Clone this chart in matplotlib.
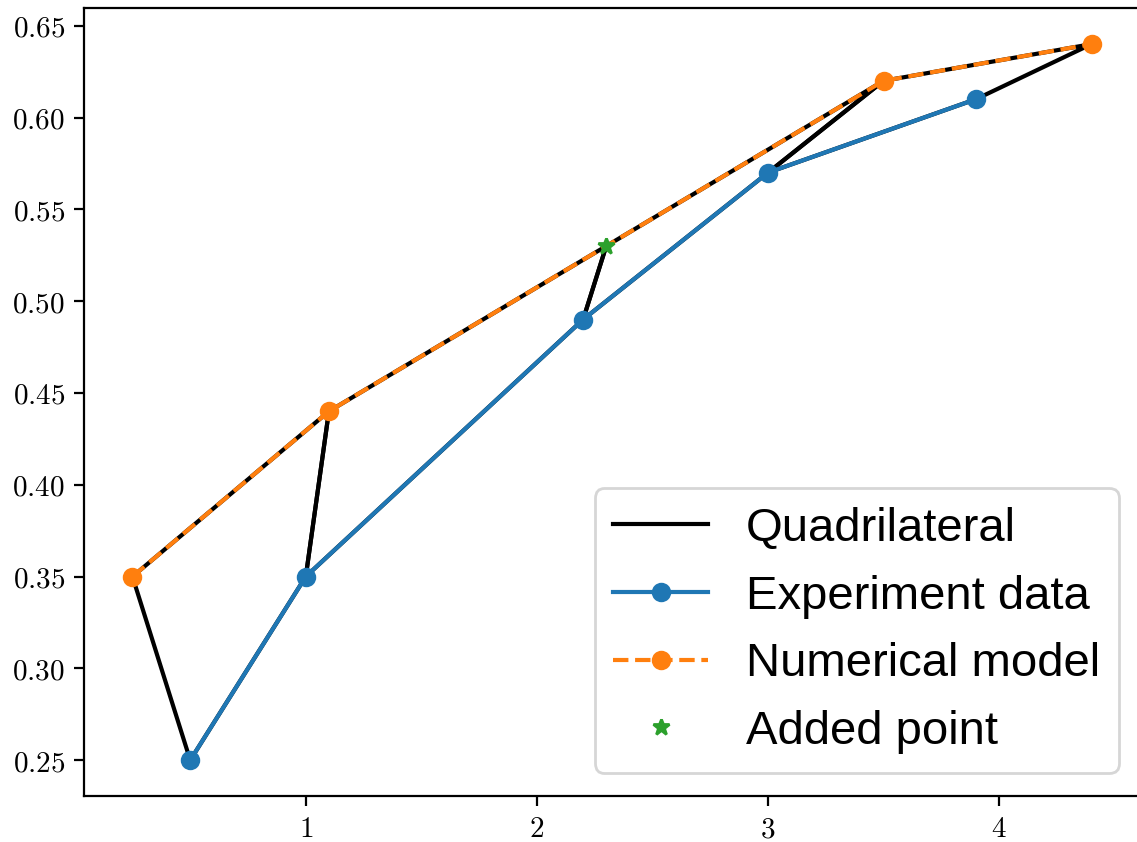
import matplotlib
matplotlib.use("Agg")
import matplotlib.pyplot as plt
from matplotlib.ticker import FuncFormatter, MultipleLocator

# Data
exp_x = [0.5, 1.0, 2.2, 3.0, 3.9]
exp_y = [0.25, 0.35, 0.49, 0.57, 0.61]
model_x = [0.25, 1.1, 3.5, 4.4]
model_y = [0.35, 0.44, 0.62, 0.64]
added_x = [2.3]
added_y = [0.53]

plt.rcParams['mathtext.fontset'] = 'cm'

fig = plt.figure(figsize=(1137 / 200, 842 / 200), dpi=200)
ax = fig.add_axes([84.5 / 1137, (842 - 796) / 842, 1055 / 1137, (796 - 8.3) / 842])

# upper boundary: model points with the added point inserted
top = sorted(list(zip(model_x, model_y)) + list(zip(added_x, added_y)))
for i in range(len(exp_x) - 1):
    qx = [exp_x[i], exp_x[i + 1], top[i + 1][0], top[i][0], exp_x[i]]
    qy = [exp_y[i], exp_y[i + 1], top[i + 1][1], top[i][1], exp_y[i]]
    ax.plot(qx, qy, color='black', lw=1.5, label='Quadrilateral' if i == 0 else None)

ax.plot(exp_x, exp_y, 'o-', color='C0', label='Experiment data')
ax.plot(model_x, model_y, 'o--', color='C1', label='Numerical model')
ax.plot(added_x, added_y, '*', color='C2', label='Added point')

ax.xaxis.set_major_locator(MultipleLocator(1))
ax.yaxis.set_major_locator(MultipleLocator(0.05))
ax.xaxis.set_major_formatter(FuncFormatter(lambda v, p: r'$%d$' % round(v)))
ax.yaxis.set_major_formatter(FuncFormatter(lambda v, p: r'$%.2f$' % v))
ax.tick_params(labelsize=10.5)

leg = ax.legend(loc='lower right', bbox_to_anchor=(0.9803, 0.0296), borderaxespad=0,
                prop={'family': 'Liberation Sans', 'size': 17})

fig.savefig('out.png', dpi=200)
